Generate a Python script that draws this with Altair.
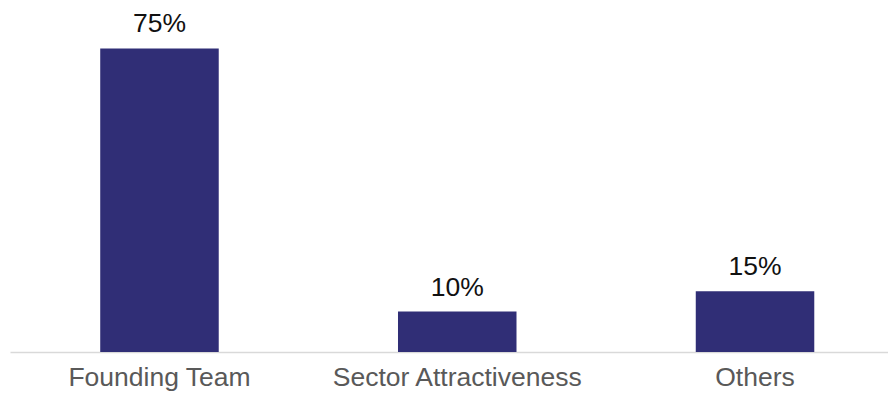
import altair as alt
import pandas as pd

categories = ["Founding Team", "Sector Attractiveness", "Others"]
values = [0.75, 0.10, 0.15]
labels = ["75%", "10%", "15%"]

df = pd.DataFrame({"category": categories, "value": values, "label": labels})

FONT = "Liberation Sans"

x = alt.X(
    "category:N",
    sort=categories,
    title=None,
    scale=alt.Scale(range=[0, 894.5], paddingInner=0.602, paddingOuter=0.303),
    axis=alt.Axis(
        labelAngle=0,
        labelFont=FONT,
        labelFontSize=26.5,
        labelColor="#595959",
        labelPadding=12,
        labelLimit=0,
        ticks=False,
        domainColor="#d9d9d9",
        domainWidth=1.5,
        grid=False,
    ),
)
y = alt.Y(
    "value:Q",
    scale=alt.Scale(domain=[0, 0.85], nice=False),
    axis=None,
)

bars = alt.Chart(df).mark_bar(color="#302e76").encode(x=x, y=y)
text = alt.Chart(df).mark_text(
    font=FONT, fontSize=26.5, color="#111111", baseline="alphabetic", dy=-16
).encode(x=alt.X("category:N", sort=categories), y=y, text="label:N")

chart = (
    alt.layer(bars, text)
    .properties(
        width=878,
        height=344,
        padding={"left": 2, "right": 0, "top": 0, "bottom": 41},
        autosize=alt.AutoSizeParams(type="none"),
    )
    .configure(background="white")
    .configure_view(stroke=None)
)

chart.save("out.html", embed_options={"renderer": "svg", "actions": False})
